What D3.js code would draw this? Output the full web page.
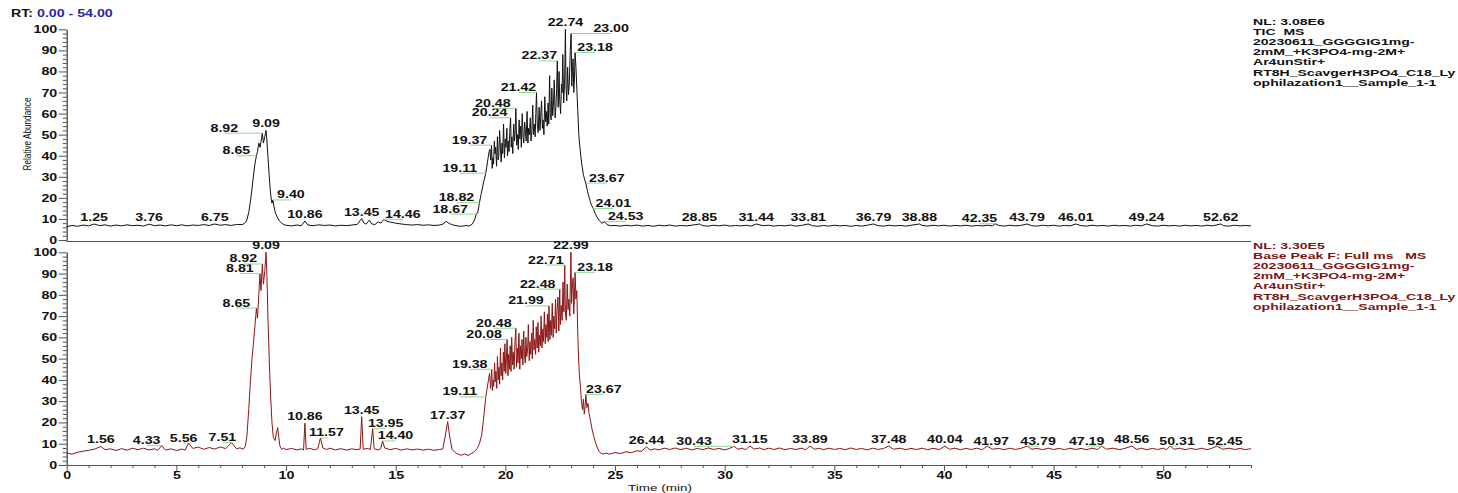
<!DOCTYPE html>
<html>
<head>
<meta charset="utf-8">
<script src="https://cdn.jsdelivr.net/npm/d3@7"></script>
<style>
  body { margin: 0; background: #fff; }
  svg { display: block; font-family: "Liberation Sans", Arial, sans-serif; }
</style>
</head>
<body>
<svg id="chart" width="1458" height="493"></svg>
<script>
// ---- Data: [retention time (min), relative abundance (%)] ----
const ticTrace = [
  [0,6.3],[0.25,6.9],[0.5,6.5],[0.75,7.1],[1.0,6.7],[1.25,7.6],[1.5,6.8],[1.75,7.2],[2.0,6.6],[2.25,7.1],
  [2.5,6.7],[2.75,7.2],[3.0,6.8],[3.25,7.0],[3.5,6.6],[3.76,7.5],[4.0,6.8],[4.25,7.1],[4.5,6.7],[4.75,7.2],
  [5.0,6.8],[5.25,7.2],[5.5,6.7],[5.75,7.1],[6.0,6.9],[6.25,7.3],[6.5,6.9],[6.75,7.6],[7.0,7.0],[7.25,7.3],
  [7.5,6.9],[7.75,7.4],[8.0,7.3],
  [8.1,7.8],[8.2,9.0],[8.3,13],[8.4,20],[8.5,29],[8.58,36],[8.65,40],[8.7,42],[8.76,46],[8.82,44],[8.88,48],
  [8.92,50.7],[8.97,46],[9.03,49],[9.09,52],[9.13,47],[9.18,39],[9.23,31],[9.28,24],[9.33,19],[9.36,17.5],
  [9.40,19],[9.45,16],[9.5,13.5],[9.55,12],[9.62,10.5],[9.7,9],[9.8,8],[9.9,7.3],[10.0,7.0],
  [10.25,6.7],[10.5,7.1],[10.7,6.8],[10.86,9.0],[11.0,7.1],[11.25,6.8],[11.5,7.2],[11.75,6.9],[12.0,7.1],
  [12.25,6.7],[12.5,7.0],[12.75,6.8],[13.0,7.1],[13.25,7.4],[13.45,10.2],[13.55,8.1],[13.65,7.5],[13.8,9.4],
  [13.9,7.7],[14.05,7.3],[14.2,8.6],[14.32,8.0],[14.46,9.8],[14.6,8.9],[14.75,8.5],[15.0,8.0],[15.25,7.6],
  [15.5,7.3],[15.75,7.1],[16.0,7.3],[16.25,7.0],[16.5,7.2],[16.75,6.9],[17.0,7.1],[17.15,7.5],[17.3,8.8],
  [17.45,7.8],[17.6,7.2],[17.8,6.7],[18.0,6.5],[18.2,6.9],[18.35,6.6],[18.5,7.6],[18.6,9.6],[18.67,12.3],
  [18.74,12.8],[18.82,17.7],[18.9,22],[19.0,27],[19.11,31.7],[19.2,38],[19.26,42],
  [19.30,43],[19.33,38],[19.37,45],[19.40,34],[19.43,39],[19.46,36],[19.50,47],[19.53,41],[19.56,44],[19.60,35],
  [19.64,49],[19.67,38],[19.70,40],[19.74,52],[19.78,43],[19.81,37],[19.85,46],[19.88,41],[19.92,55],[19.96,39],
  [20.00,48],[20.03,44],[20.07,53],[20.10,40],[20.14,47],[20.17,42],[20.20,51],[20.24,58],[20.27,44],[20.30,49],
  [20.34,41],[20.38,55],[20.42,47],[20.45,52],[20.48,62.5],[20.52,45],[20.55,50],[20.59,43],[20.63,57],[20.66,48],
  [20.70,54],[20.73,44],[20.77,60],[20.81,49],[20.84,46],[20.88,56],[20.92,51],[20.95,47],[20.99,61],[21.03,46],
  [21.06,53],[21.10,50],[21.14,58],[21.17,47],[21.21,52],[21.25,64],[21.28,50],[21.32,55],[21.36,49],[21.39,60],
  [21.42,70],[21.46,54],[21.50,51],[21.54,63],[21.58,52],[21.61,58],[21.65,66],[21.69,53],[21.72,57],[21.76,50],
  [21.80,68],[21.84,56],[21.87,61],[21.91,54],[21.95,65],[21.98,55],[22.02,78],[22.05,60],[22.09,57],[22.12,72],
  [22.16,59],[22.20,66],[22.23,76],[22.27,58],[22.31,64],[22.34,72],[22.37,85],[22.41,63],[22.45,80],[22.48,66],
  [22.52,60],[22.56,74],[22.59,70],[22.62,88],[22.66,65],[22.70,74],[22.74,100],[22.77,72],[22.80,66],[22.84,82],
  [22.88,69],[22.92,75],[22.96,90],[23.00,98],[23.03,73],[23.06,80],[23.09,86],[23.12,70],[23.15,76],[23.18,89],
  [23.22,82],[23.26,72],
  [23.30,62],[23.35,50],[23.40,44],[23.45,39],[23.50,35],[23.56,31],[23.62,28.5],[23.67,27],[23.75,23],[23.85,19],
  [23.93,16.5],[24.01,15],[24.1,12.5],[24.2,10.5],[24.3,9.0],[24.4,8.0],[24.53,8.7],[24.65,7.2],[24.8,6.8],
  [25.0,6.9],[25.25,6.6],[25.5,7.0],[25.75,6.7],[26.0,7.1],[26.25,6.6],[26.5,6.9],[26.75,6.5],[27.0,7.0],[27.25,6.7],
  [27.5,7.1],[27.75,6.6],[28.0,6.9],[28.25,6.7],[28.5,7.0],[28.85,7.6],[29.0,6.8],[29.25,6.6],[29.5,7.0],[29.75,6.7],
  [30.0,7.1],[30.25,6.6],[30.5,6.9],[30.75,6.7],[31.0,7.0],[31.2,6.6],[31.44,7.6],[31.75,6.8],[32.0,7.0],[32.25,6.6],
  [32.5,6.9],[32.75,6.7],[33.0,7.1],[33.25,6.6],[33.5,6.9],[33.81,7.6],[34.0,6.8],[34.25,6.5],[34.5,6.9],[34.75,6.6],
  [35.0,7.0],[35.25,6.7],[35.5,6.9],[35.75,6.5],[36.0,6.9],[36.25,6.6],[36.5,7.0],[36.79,7.6],[37.0,6.8],[37.25,6.6],
  [37.5,7.0],[37.75,6.7],[38.0,6.9],[38.25,6.6],[38.5,7.0],[38.88,7.6],[39.0,6.9],[39.25,6.6],[39.5,7.0],[39.75,6.7],
  [40.0,7.0],[40.25,6.6],[40.5,6.9],[40.75,6.7],[41.0,7.0],[41.25,6.6],[41.5,6.9],[41.75,6.7],[42.0,7.0],[42.2,6.7],
  [42.35,7.7],[42.5,6.9],[42.75,6.6],[43.0,7.0],[43.25,6.7],[43.5,6.9],[43.79,7.6],[44.0,6.8],[44.25,6.6],[44.5,7.0],
  [44.75,6.7],[45.0,7.0],[45.25,6.6],[45.5,6.9],[45.75,6.7],[46.01,7.6],[46.25,6.8],[46.5,6.6],[46.75,7.0],[47.0,6.7],
  [47.25,6.9],[47.5,6.6],[47.75,7.0],[48.0,6.7],[48.25,6.9],[48.5,6.6],[48.75,7.0],[49.0,6.7],[49.24,7.6],[49.5,6.8],
  [49.75,6.6],[50.0,7.0],[50.25,6.7],[50.5,6.9],[50.75,6.6],[51.0,7.0],[51.25,6.7],[51.5,6.9],[51.75,6.6],[52.0,7.0],
  [52.25,6.7],[52.62,7.6],[52.75,6.8],[53.0,6.6],[53.25,7.0],[53.5,6.7],[53.75,6.9],[54.0,6.7]
];

const basePeakTrace = [
  [0,5.6],[0.25,5.1],[0.5,6.0],[0.75,6.5],[1.0,6.9],[1.25,7.4],[1.56,8.7],[1.75,7.2],[2.0,7.6],[2.25,6.8],
  [2.5,7.7],[2.75,7.0],[3.0,7.9],[3.25,7.2],[3.5,7.9],[3.75,7.1],[4.0,7.6],[4.15,6.9],[4.33,9.1],[4.5,7.0],
  [4.75,7.6],[5.0,6.8],[5.25,7.5],[5.4,7.0],[5.56,10.3],[5.75,7.8],[6.0,8.4],[6.25,7.4],[6.5,8.2],[6.75,7.5],
  [7.0,8.5],[7.25,7.7],[7.51,10.5],[7.75,7.6],[7.9,8.1],[8.05,7.4],
  [8.15,9],[8.22,14],[8.3,26],[8.38,40],[8.45,50],[8.52,58],[8.58,65],[8.65,73.8],[8.7,69],[8.76,80],
  [8.81,90],[8.86,82],[8.92,94.5],[8.97,85],[9.03,91],[9.09,100],[9.13,89],[9.18,68],[9.24,48],[9.3,32],
  [9.36,20],[9.42,13],[9.5,11.5],[9.56,15],[9.62,17.6],[9.67,13],[9.72,9],[9.8,7.4],[9.9,7.9],[10.0,7.2],
  [10.25,7.8],[10.5,7.1],[10.7,7.6],[10.8,7.0],[10.86,19.7],[10.92,7.4],[11.1,7.8],[11.3,7.1],[11.45,7.7],[11.57,12.7],
  [11.68,8.0],[11.85,7.3],[12.0,7.9],[12.25,7.1],[12.5,7.7],[12.75,7.0],[13.0,7.6],[13.2,7.2],[13.38,7.5],[13.45,22.7],
  [13.52,7.4],[13.7,7.8],[13.85,7.3],[13.95,17.1],[14.02,7.6],[14.2,7.1],[14.32,7.6],[14.40,11.3],[14.5,8.0],[14.75,7.2],
  [15.0,7.8],[15.25,7.0],[15.5,7.6],[15.75,7.1],[16.0,7.5],[16.25,7.0],[16.5,7.4],[16.75,6.9],[17.0,7.3],[17.15,7.6],
  [17.25,13],[17.37,20.4],[17.47,13],[17.57,7.4],[17.7,6.0],[17.85,5.0],[18.0,4.6],[18.15,5.2],[18.3,4.5],[18.45,5.4],
  [18.6,6.3],[18.72,7.8],[18.82,10],[18.92,14],[19.0,21],[19.11,32],[19.2,38],[19.28,43],
  [19.33,36],[19.38,45],[19.41,35],[19.44,40],[19.47,37],[19.51,48],[19.54,39],[19.57,44],[19.61,36],[19.64,51],
  [19.68,40],[19.71,46],[19.74,38],[19.78,55],[19.81,42],[19.84,48],[19.88,40],[19.91,53],[19.95,44],[19.98,57],
  [20.02,43],[20.05,50],[20.08,59],[20.12,42],[20.15,52],[20.19,45],[20.22,56],[20.26,44],[20.29,60],[20.33,47],
  [20.36,53],[20.40,45],[20.44,58],[20.48,64.3],[20.51,46],[20.55,55],[20.58,48],[20.62,62],[20.66,45],[20.69,56],
  [20.73,50],[20.76,59],[20.80,47],[20.84,63],[20.87,52],[20.91,48],[20.94,60],[20.98,51],[21.02,55],[21.05,66],
  [21.09,49],[21.12,58],[21.16,52],[21.20,62],[21.23,50],[21.27,68],[21.31,54],[21.34,59],[21.38,52],[21.41,65],
  [21.45,55],[21.49,67],[21.52,53],[21.56,61],[21.60,56],[21.63,70],[21.67,55],[21.71,64],[21.74,58],[21.78,72],
  [21.82,57],[21.85,66],[21.89,60],[21.92,71],[21.95,58],[21.99,74.8],[22.03,59],[22.07,68],[22.10,61],[22.14,76],
  [22.18,60],[22.21,70],[22.25,64],[22.29,78],[22.32,62],[22.36,73],[22.40,79],[22.44,63],[22.48,82.7],[22.51,66],
  [22.55,75],[22.59,68],[22.63,86],[22.67,72],[22.71,94],[22.74,71],[22.78,68],[22.82,85],[22.86,73],[22.90,78],
  [22.94,70],[22.99,100],[23.02,76],[23.05,83],[23.09,88],[23.12,71],[23.15,79],[23.18,90.6],[23.22,78],[23.26,82],
  [23.30,63],
  [23.34,50],[23.38,42],[23.43,36],[23.47,30],[23.52,26],[23.56,31],[23.6,24],[23.64,28],[23.67,33.2],[23.72,27],
  [23.77,29],[23.82,24],[23.88,21],[23.95,17],[24.02,14],[24.1,11],[24.18,8.5],[24.26,6.6],[24.35,5.6],[24.45,5.2],
  [24.6,5.6],[24.75,5.1],[25.0,5.8],[25.25,5.4],[25.5,6.2],[25.75,5.8],[26.0,6.7],[26.2,6.4],[26.44,8.5],[26.6,7.0],
  [26.8,7.6],[27.0,7.1],[27.25,7.9],[27.5,7.3],[27.75,8.0],[28.0,7.2],[28.25,7.9],[28.5,7.1],[28.75,7.8],[29.0,7.2],
  [29.25,8.0],[29.5,7.3],[29.75,7.8],[30.0,7.1],[30.2,7.7],[30.43,8.8],[30.6,7.4],[30.8,7.9],[30.95,7.2],[31.15,8.9],
  [31.35,7.5],[31.6,8.0],[31.8,7.2],[32.0,7.9],[32.25,7.3],[32.5,8.0],[32.75,7.2],[33.0,7.8],[33.25,7.3],[33.5,7.9],
  [33.7,7.2],[33.89,8.9],[34.1,7.4],[34.3,7.9],[34.5,7.2],[34.75,7.9],[35.0,7.3],[35.25,7.8],[35.5,7.2],[35.75,8.0],
  [36.0,7.3],[36.25,7.8],[36.5,7.1],[36.75,7.9],[37.0,7.3],[37.25,7.8],[37.48,8.9],[37.7,7.4],[38.0,7.9],[38.25,7.2],
  [38.5,7.8],[38.75,7.3],[39.0,7.9],[39.25,7.2],[39.5,7.8],[39.8,7.3],[40.04,8.9],[40.25,7.4],[40.5,7.9],[40.75,7.2],
  [41.0,7.8],[41.25,7.3],[41.5,7.9],[41.75,7.2],[41.97,8.9],[42.2,7.4],[42.5,7.8],[42.75,7.2],[43.0,7.9],[43.25,7.3],
  [43.5,7.8],[43.79,8.9],[44.0,7.4],[44.25,7.8],[44.5,7.2],[44.75,7.9],[45.0,7.3],[45.25,7.8],[45.5,7.2],[45.75,7.9],
  [46.0,7.3],[46.25,7.8],[46.5,7.2],[46.75,7.9],[47.0,7.3],[47.19,8.9],[47.4,7.4],[47.7,7.9],[48.0,7.2],[48.25,7.8],
  [48.56,8.9],[48.8,7.3],[49.0,7.9],[49.25,7.2],[49.5,7.8],[49.75,7.3],[50.0,7.9],[50.15,7.2],[50.31,8.9],[50.5,7.4],
  [50.75,7.9],[51.0,7.2],[51.25,7.8],[51.5,7.3],[51.75,7.9],[52.0,7.2],[52.2,7.8],[52.45,8.9],[52.7,7.4],[53.0,7.9],
  [53.25,7.3],[53.5,7.8],[53.75,7.2],[54.0,7.7]
];

// Annotated peak retention times
const ticLabels = ["1.25","3.76","6.75","8.65","8.92","9.09","9.40","10.86","13.45","14.46","18.67","18.82",
  "19.11","19.37","20.24","20.48","21.42","22.37","22.74","23.00","23.18","23.67","24.01","24.53","28.85",
  "31.44","33.81","36.79","38.88","42.35","43.79","46.01","49.24","52.62"];
const basePeakLabels = ["1.56","4.33","5.56","7.51","8.65","8.81","8.92","9.09","10.86","11.57","13.45","13.95",
  "14.40","17.37","19.11","19.38","20.08","20.48","21.99","22.48","22.71","22.99","23.18","23.67","26.44",
  "30.43","31.15","33.89","37.48","40.04","41.97","43.79","47.19","48.56","50.31","52.45"];

const yTicks = [0,10,20,30,40,50,60,70,80,90,100];
const yMinorTicks = d3.range(0, 101, 2).filter(v => v % 10 !== 0);
const xTicks = [0,5,10,15,20,25,30,35,40,45,50];
const xMinorTicks = d3.range(0, 55, 1).filter(v => v % 5 !== 0);

const ticInfo = ["NL: 3.08E6","TIC  MS","20230611_GGGGIG1mg-","2mM_+K3PO4-mg-2M+","Ar4unStir+",
  "RT8H_ScavgerH3PO4_C18_Ly","ophilazation1__Sample_1-1"];
const basePeakInfo = ["NL: 3.30E5","Base Peak F: Full ms   MS","20230611_GGGGIG1mg-","2mM_+K3PO4-mg-2M+",
  "Ar4unStir+","RT8H_ScavgerH3PO4_C18_Ly","ophilazation1__Sample_1-1"];

// ---- Label placement: horizontal shift (px) of labels moved off their peak ----
const ticShift = {"8.65":-20,"8.92":-38,"9.40":18,"14.46":19,"18.67":-26,"18.82":-23,"19.11":-26,"19.37":-22,
  "20.24":-21,"20.48":-23,"21.42":-18,"22.37":-18,"23.00":40,"23.18":20,"23.67":21,"24.01":20,"24.53":21,"42.35":-16};
const baseShift = {"4.33":-15,"5.56":-5,"7.51":-9,"8.65":-20,"8.81":-20,"8.92":-19,"11.57":6,"13.95":13,"14.40":13,
  "19.11":-26,"19.38":-22,"20.08":-23,"20.48":-22,"21.99":-23,"22.48":-22,"22.71":-19,"23.18":20,"23.67":18,
  "30.43":-40,"41.97":4,"43.79":11,"47.19":-15,"50.31":7,"52.45":8};

// ---- Drawing ----
const SX = 1.42;           // horizontal text stretch
const svg = d3.select("#chart");
const x = d3.scaleLinear().domain([0, 54]).range([66.7, 1251]);
const yTop = d3.scaleLinear().domain([0, 100]).range([240, 29.3]);
const yBot = d3.scaleLinear().domain([0, 100]).range([465, 252.3]);
const axisColor = "#555";

function stretchText(sel, size, weight) {
  sel.attr("font-size", size).attr("font-weight", weight).attr("fill", "#111");
}

function drawYAxis(y) {
  const g = svg.append("g").attr("transform", "translate(66.7,0)");
  g.call(d3.axisLeft(y).tickValues(yMinorTicks).tickSize(4).tickSizeOuter(0).tickFormat(""));
  const major = svg.append("g").attr("transform", "translate(66.7,0)")
    .call(d3.axisLeft(y).tickValues(yTicks).tickSize(8).tickSizeOuter(0).tickFormat(d3.format("d")));
  major.selectAll("text")
    .attr("x", null).attr("dy", "0.35em")
    .attr("transform", `translate(-9.5,0) scale(${SX},1)`)
    .attr("text-anchor", "end")
    .call(stretchText, 10, "bold");
  svg.selectAll(".domain, .tick line").attr("stroke", axisColor);
}

drawYAxis(yTop);
drawYAxis(yBot);

// top panel baseline / frame
svg.append("line").attr("x1", 66.7).attr("x2", 1251).attr("y1", 241.5).attr("y2", 241.5).attr("stroke", axisColor);
svg.append("line").attr("x1", 66.7).attr("x2", 66.7).attr("y1", 240).attr("y2", 241.5).attr("stroke", axisColor);

// bottom time axis
svg.append("g").attr("transform", "translate(0,465)")
  .call(d3.axisBottom(x).tickValues(xMinorTicks).tickSize(3).tickSizeOuter(0).tickFormat(""));
const xAx = svg.append("g").attr("transform", "translate(0,465)")
  .call(d3.axisBottom(x).tickValues(xTicks).tickSize(6).tickSizeOuter(0).tickFormat(d3.format("d")));
xAx.selectAll("text").attr("y", null).attr("dy", null)
  .attr("transform", `translate(0,13.5) scale(${SX},1)`)
  .call(stretchText, 10, "bold");
svg.selectAll(".domain, .tick line").attr("stroke", axisColor);

// axis titles
svg.append("text").attr("transform", `translate(${660},491) scale(${SX},1)`)
  .attr("text-anchor", "middle").attr("font-size", 9.5).attr("fill", "#111").text("Time (min)");
svg.append("text").attr("transform", `translate(30.5,134) scale(${SX},1) rotate(-90)`)
  .attr("text-anchor", "middle").attr("font-size", 8.2).attr("fill", "#111").text("Relative Abundance");

// RT range
const rt = svg.append("text").attr("transform", `translate(11,17) scale(${SX},1)`)
  .attr("font-size", 10).attr("font-weight", "bold");
rt.append("tspan").attr("fill", "#111").text("RT: ");
rt.append("tspan").attr("fill", "#2626a6").text("0.00 - 54.00");

// traces
function drawTrace(data, y, color) {
  svg.append("path").datum(data)
    .attr("fill", "none").attr("stroke", color).attr("stroke-width", 1)
    .attr("stroke-linejoin", "round")
    .attr("d", d3.line().x(d => x(d[0])).y(d => y(d[1])));
}
drawTrace(ticTrace, yTop, "#111");
drawTrace(basePeakTrace, yBot, "#8b1616");

// peak annotations
function drawLabels(labels, data, y, shift) {
  const g = svg.append("g");
  labels.forEach(lbl => {
    const t = +lbl;
    const pt = data.find(d => Math.abs(d[0] - t) < 1e-6);
    const px = x(t), py = y(pt[1]);
    const dx = shift[lbl] || 0;
    if (dx !== 0) {
      g.append("line").attr("x1", px).attr("x2", px + dx).attr("y1", py).attr("y2", py)
        .attr("stroke", "#8fd88f").attr("stroke-width", 1);
    }
    g.append("text")
      .attr("transform", `translate(${px + dx},${dx !== 0 ? py - 1.5 : py - 3}) scale(${SX},1)`)
      .attr("text-anchor", "middle")
      .call(stretchText, 10, "bold")
      .text(lbl);
  });
}
drawLabels(ticLabels, ticTrace, yTop, ticShift);
drawLabels(basePeakLabels, basePeakTrace, yBot, baseShift);

// trace descriptions
function drawInfo(lines, top, color) {
  const g = svg.append("g");
  lines.forEach((s, i) => {
    g.append("text")
      .attr("transform", `translate(1253,${top + i * 10.1}) scale(${SX},1)`)
      .attr("font-size", 9.9).attr("font-weight", "bold").attr("fill", color)
      .style("white-space", "pre")
      .text(s);
  });
}
drawInfo(ticInfo, 25, "#111");
drawInfo(basePeakInfo, 249, "#7d1414");
</script>
</body>
</html>
